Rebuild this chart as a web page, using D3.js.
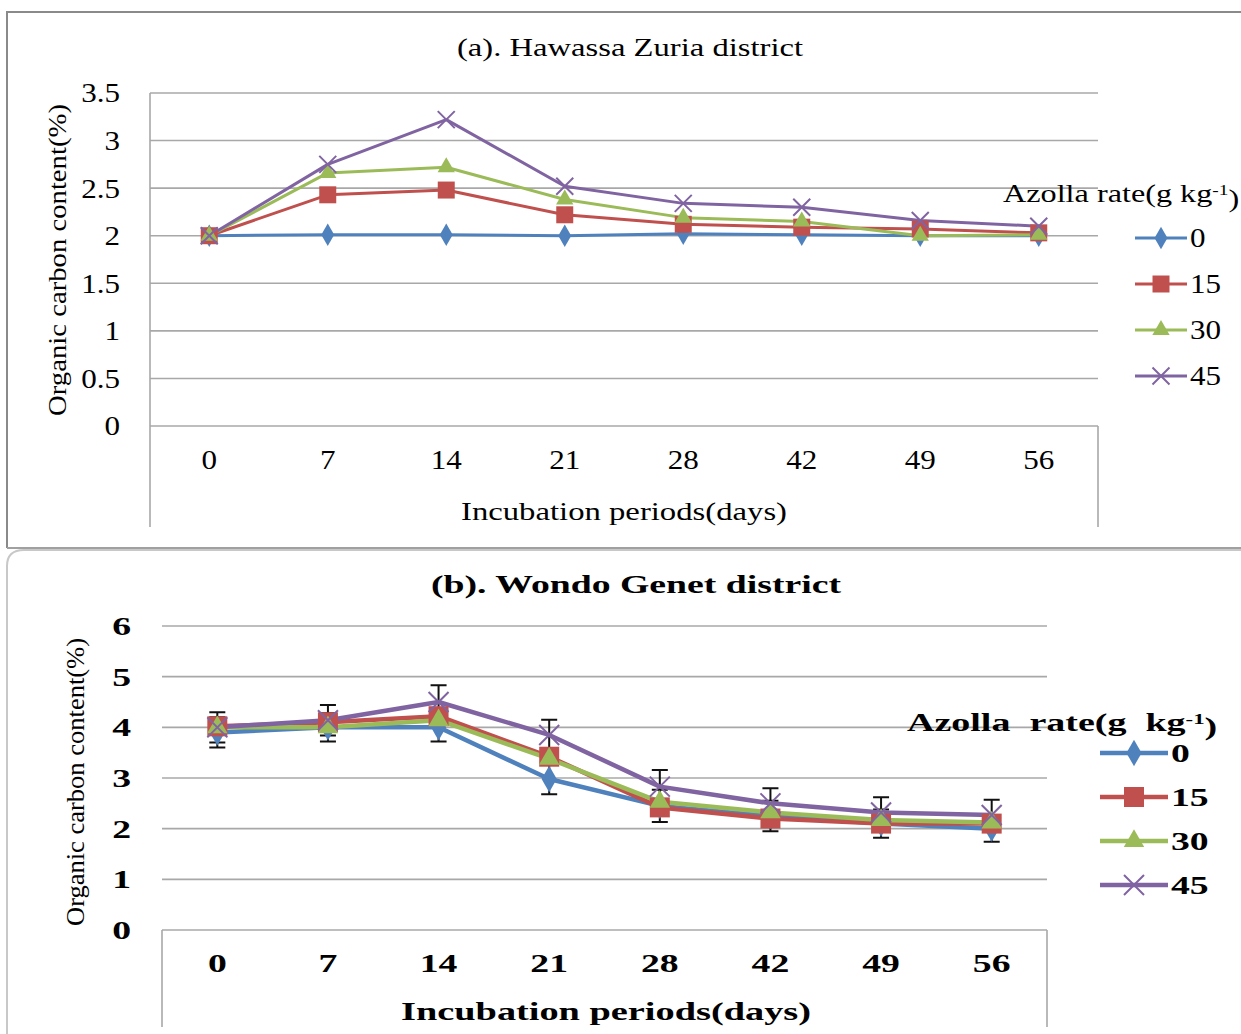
<!DOCTYPE html>
<html>
<head>
<meta charset="utf-8">
<script src="https://cdn.jsdelivr.net/npm/d3@7"></script>
<style>
  body { margin: 0; background: #fff; }
  svg { display: block; font-family: "Liberation Serif", "DejaVu Serif", serif; }
</style>
</head>
<body>
<div id="chart"></div>
<script>
// incubation periods (days)
const days = ['0', '7', '14', '21', '28', '42', '49', '56'];
const rates = ['0', '15', '30', '45'];
const colors = ['#4F81BD', '#C0504D', '#9BBB59', '#8064A2'];
const shapes = ['diamond', 'square', 'triangle', 'cross'];

// (a) Hawassa Zuria
const hzRate0  = [2.00, 2.01, 2.01, 2.00, 2.02, 2.01, 2.00, 2.00];
const hzRate15 = [2.00, 2.43, 2.48, 2.22, 2.12, 2.09, 2.07, 2.03];
const hzRate30 = [2.00, 2.66, 2.72, 2.38, 2.19, 2.15, 2.00, 2.01];
const hzRate45 = [2.00, 2.75, 3.22, 2.52, 2.34, 2.30, 2.16, 2.10];
const hzTicks = [0, 0.5, 1, 1.5, 2, 2.5, 3, 3.5];

// (b) Wondo Genet
const wgRate0  = [3.90, 4.00, 4.00, 2.98, 2.45, 2.25, 2.10, 2.00];
const wgRate15 = [4.02, 4.10, 4.22, 3.42, 2.42, 2.20, 2.10, 2.10];
const wgRate30 = [4.00, 4.00, 4.14, 3.38, 2.53, 2.32, 2.17, 2.12];
const wgRate45 = [4.00, 4.14, 4.50, 3.85, 2.83, 2.50, 2.32, 2.27];
const wgErr0   = [0.30, 0.28, 0.28, 0.30, 0.32, 0.30, 0.28, 0.26];
const wgErr45  = [0.30, 0.30, 0.33, 0.30, 0.33, 0.30, 0.30, 0.30];
const wgTicks = [0, 1, 2, 3, 4, 5, 6];

const svg = d3.select('#chart').append('svg')
  .attr('width', 1241)
  .attr('height', 1034);

// 外框
svg.append('path')
  .attr('d', 'M7,548 L7,12 L1241,12')
  .attr('fill', 'none').attr('stroke', '#8a8a8a').attr('stroke-width', 2);
svg.append('path')
  .attr('d', 'M7,548 L1241,548')
  .attr('fill', 'none').attr('stroke', '#a0a0a0').attr('stroke-width', 2);
svg.append('path')
  .attr('d', 'M7,1034 L7,566 Q7,550 24,550 L1241,550')
  .attr('fill', 'none').attr('stroke', '#c8c8c8').attr('stroke-width', 2);

function marker(g, shape, x, y, size, color) {
  if (shape === 'cross') {
    const h = size / 2;
    g.append('path')
      .attr('d', `M${x - h},${y - h}L${x + h},${y + h}M${x - h},${y + h}L${x + h},${y - h}`)
      .attr('stroke', color).attr('stroke-width', 2).attr('fill', 'none');
    return;
  }
  const type = shape === 'diamond' ? d3.symbolDiamond : shape === 'square' ? d3.symbolSquare : d3.symbolTriangle;
  const area = shape === 'diamond' ? size * size * 0.5 : shape === 'square' ? size * size : size * size * 0.45;
  g.append('path')
    .attr('d', d3.symbol().type(type).size(area)())
    .attr('transform', `translate(${x},${y})`)
    .attr('fill', color);
}

// 横向拉伸的文字（原图的字体比较宽）
function label(g, x, y, txt, size, weight, anchor, sx) {
  return g.append('text')
    .attr('transform', `translate(${x},${y}) scale(${sx},1)`)
    .attr('dy', '0.35em').attr('text-anchor', anchor)
    .style('font-size', size + 'px').style('font-weight', weight)
    .text(txt);
}

function drawPanel(cfg) {
  const g = svg.append('g');
  const x = d3.scalePoint().domain(days).range([cfg.left, cfg.right]).padding(0.5);
  const y = d3.scaleLinear().domain([0, cfg.ticks[cfg.ticks.length - 1]]).range([cfg.bottom, cfg.top]);
  const fw = cfg.bold ? 'bold' : 'normal';

  // 网格线
  g.selectAll('.grid')
    .data(cfg.ticks)
    .enter().append('line')
    .attr('x1', cfg.left).attr('x2', cfg.right)
    .attr('y1', d => y(d)).attr('y2', d => y(d))
    .attr('stroke', '#a8a8a8').attr('stroke-width', 1.6);

  // 下方方框
  g.append('line').attr('x1', cfg.left).attr('x2', cfg.left)
    .attr('y1', cfg.boxTop).attr('y2', cfg.boxBottom)
    .attr('stroke', '#a8a8a8').attr('stroke-width', 1.6);
  g.append('line').attr('x1', cfg.right).attr('x2', cfg.right)
    .attr('y1', cfg.bottom).attr('y2', cfg.boxBottom)
    .attr('stroke', '#a8a8a8').attr('stroke-width', 1.6);

  // 刻度文字
  cfg.ticks.forEach(d => label(g, cfg.yTickX, y(d), d, cfg.tickSize, fw, 'end', cfg.stretch));
  days.forEach(d => label(g, x(d), cfg.xTickY, d, cfg.tickSize, fw, 'middle', cfg.stretch));

  // 标题
  g.append('text')
    .attr('x', cfg.titleX).attr('y', cfg.titleY).attr('dy', '0.35em')
    .attr('text-anchor', 'middle')
    .attr('textLength', cfg.titleLen).attr('lengthAdjust', 'spacingAndGlyphs')
    .style('font-size', cfg.titleSize + 'px').style('font-weight', fw)
    .text(cfg.title);

  g.append('text')
    .attr('x', cfg.xTitleX).attr('y', cfg.xTitleY).attr('dy', '0.35em')
    .attr('text-anchor', 'middle')
    .attr('textLength', cfg.xTitleLen).attr('lengthAdjust', 'spacingAndGlyphs')
    .style('font-size', cfg.titleSize + 'px').style('font-weight', fw)
    .text('Incubation periods(days)');

  g.append('text')
    .attr('transform', `translate(${cfg.yTitleX},${cfg.yTitleY}) rotate(-90)`)
    .attr('dy', '0.35em').attr('text-anchor', 'middle')
    .attr('textLength', cfg.yTitleLen).attr('lengthAdjust', 'spacingAndGlyphs')
    .style('font-size', cfg.yTitleSize + 'px')
    .text('Organic carbon content(%)');

  // 误差线
  cfg.errors.forEach(([vals, errs]) => {
    vals.forEach((v, i) => {
      const cx = x(days[i]);
      const y1 = y(v - errs[i]), y2 = y(v + errs[i]);
      g.append('path')
        .attr('d', `M${cx},${y1}L${cx},${y2}M${cx - 8},${y1}L${cx + 8},${y1}M${cx - 8},${y2}L${cx + 8},${y2}`)
        .attr('stroke', '#111').attr('stroke-width', 2).attr('fill', 'none');
    });
  });

  // 折线
  const line = d3.line().x((d, i) => x(days[i])).y(d => y(d));
  cfg.series.forEach((vals, k) => {
    g.append('path')
      .attr('d', line(vals))
      .attr('fill', 'none')
      .attr('stroke', colors[k])
      .attr('stroke-width', cfg.lineWidth)
      .attr('stroke-linejoin', 'round');
  });
  cfg.series.forEach((vals, k) => {
    vals.forEach((v, i) => marker(g, shapes[k], x(days[i]), y(v), cfg.markerSize, colors[k]));
  });

  // 图例
  const lt = g.append('text')
    .attr('transform', `translate(${cfg.legendTitleX},${cfg.legendTitleY}) scale(${cfg.legendTitleStretch},1)`)
    .attr('dy', '0.35em')
    .style('white-space', 'pre')
    .style('font-size', cfg.titleSize + 'px').style('font-weight', fw);
  lt.append('tspan').text(cfg.legendTitle);
  lt.append('tspan').attr('dy', '-0.45em').style('font-size', (cfg.titleSize * 0.6) + 'px').text('-1');
  lt.append('tspan').attr('dy', '0.45em').text(')');

  rates.forEach((r, k) => {
    const ly = cfg.legendY + k * cfg.legendStep;
    g.append('line')
      .attr('x1', cfg.legendX).attr('x2', cfg.legendX + cfg.legendLen)
      .attr('y1', ly).attr('y2', ly)
      .attr('stroke', colors[k]).attr('stroke-width', cfg.lineWidth);
    marker(g, shapes[k], cfg.legendX + cfg.legendLen / 2, ly, cfg.markerSize, colors[k]);
    label(g, cfg.legendX + cfg.legendLen + 3, ly, r, cfg.tickSize, fw, 'start', cfg.stretch);
  });
}

drawPanel({
  left: 150, right: 1098, top: 93, bottom: 426, boxTop: 93, boxBottom: 527,
  ticks: hzTicks, bold: false, tickSize: 27, stretch: 1.15, titleSize: 26, yTitleSize: 26,
  yTickX: 120, xTickY: 460,
  title: '(a). Hawassa Zuria district', titleX: 630, titleY: 47, titleLen: 346,
  xTitleX: 624, xTitleY: 511, xTitleLen: 326,
  yTitleX: 57, yTitleY: 260, yTitleLen: 312,
  series: [hzRate0, hzRate15, hzRate30, hzRate45], errors: [],
  lineWidth: 3, markerSize: 17,
  legendTitle: 'Azolla rate(g kg', legendTitleX: 1003, legendTitleY: 193, legendTitleStretch: 1.24,
  legendX: 1135, legendLen: 52, legendY: 238, legendStep: 46
});

drawPanel({
  left: 162, right: 1047, top: 626, bottom: 930, boxTop: 930, boxBottom: 1027,
  ticks: wgTicks, bold: true, tickSize: 26, stretch: 1.45, titleSize: 25, yTitleSize: 25,
  yTickX: 131, xTickY: 963,
  title: '(b). Wondo Genet district', titleX: 636, titleY: 584, titleLen: 410,
  xTitleX: 606, xTitleY: 1011, xTitleLen: 410,
  yTitleX: 75, yTitleY: 782, yTitleLen: 288,
  series: [wgRate0, wgRate15, wgRate30, wgRate45],
  errors: [[wgRate0, wgErr0], [wgRate45, wgErr45]],
  lineWidth: 4.5, markerSize: 20,
  legendTitle: 'Azolla  rate(g  kg', legendTitleX: 907, legendTitleY: 722, legendTitleStretch: 1.52,
  legendX: 1100, legendLen: 68, legendY: 753, legendStep: 44
});
</script>
</body>
</html>
